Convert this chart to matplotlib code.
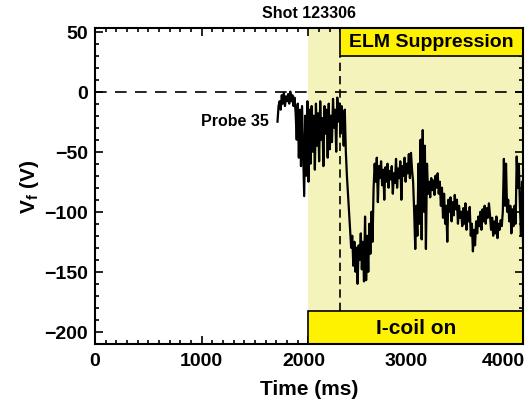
import numpy as np
import matplotlib
matplotlib.use("Agg")
import matplotlib.pyplot as plt
import matplotlib.transforms as mtrans
from matplotlib import font_manager
from matplotlib.patches import Rectangle
from matplotlib.ticker import MultipleLocator

# pick a narrow bold sans if there is one
names = {f.name for f in font_manager.fontManager.ttflist}
fam = "Liberation Sans Narrow" if "Liberation Sans Narrow" in names else "Liberation Sans"
plt.rcParams["font.family"] = [fam, "DejaVu Sans"]
plt.rcParams["font.weight"] = "bold"
plt.rcParams["mathtext.fontset"] = "custom"
plt.rcParams["mathtext.rm"] = fam + ":bold"
plt.rcParams["mathtext.it"] = fam + ":bold"

# probe 35 floating potential, sampled every 10 ms from 1710 ms
t_start, t_step = 1710, 10
vf = [-25, -12, -8, -15, -3, -10, -1, -12, -4, -8,
      -2, -10, 0, -8, -3, -12, -5, -18,
      -40, -10, -55, -15, -62, -12, -48, -87, -20, -70, -8, -75, -15,
      -60, -12, -50, -20, -65, -10, -45, -18, -58, -8, -40, -22, -62, -12, -35,
      -15, -55, -10, -48, -20, -42, -6, -30, -15, -50, -5, -25, -10, -35, -12,
      -20, -45, -15, -50, -70, -85, -100, -115,
      -130, -120, -145, -125, -150, -130, -160, -128, -140, -118, -148, -125,
      -158, -104, -157, -120, -150, -110, -135, -100, -125, -80,
      -60, -75, -55, -92, -62, -72, -58, -78, -65, -90, -63, -75, -60, -80,
      -66, -73, -62, -85, -68, -76, -56, -80, -64, -72, -58, -90, -62, -70,
      -55, -75, -60, -68, -52, -72, -51, -65,
      -75, -100, -131, -95, -120, -60, -110, -40, -123, -32, -100, -45, -131, -60,
      -85, -75, -88, -72, -82, -74, -86, -70, -80, -68, -85, -75, -95, -80,
      -105, -85, -110, -95, -125, -90,
      -100, -88, -108, -92, -103, -86, -98, -90, -110, -95, -105, -100, -112,
      -97, -110, -93, -115, -100, -108, -96,
      -120, -110, -133, -115, -128, -108,
      -118, -104, -112, -100, -115, -98, -108, -95, -110, -97, -105, -93, -103,
      -115, -105, -120, -108, -118, -104, -122, -110, -115, -107, -112,
      -100, -56, -95, -60,
      -100, -90, -108, -95, -118, -98, -112, -95, -110,
      -54, -80, -60,
      -95, -120, -75, -128, -65, -95]
time = t_start + t_step * np.arange(len(vf))

# I-coil and ELM-suppression windows (ms)
icoil_on = 2000
elm_start = 2300
x_max = 4010
y_min, y_max = -210, 53
x_ticks = [0, 1000, 2000, 3000, 4000]

fig = plt.figure(figsize=(5.3, 4.14), dpi=100)
ax = fig.add_axes([0.179, 0.167, 0.808, 0.763])

ax.axvspan(icoil_on, x_max, color="#f3f3bb", zorder=0, lw=0)
ax.axhline(0, color="black", ls=(0, (7, 5)), lw=1.2, zorder=2)
ax.plot([elm_start, elm_start], [-183, 30], color="black", ls=(0, (5, 3)), lw=1.2, zorder=2)

ax.plot(time, vf, color="black", lw=1.6, zorder=3)

# label boxes
ax.add_patch(Rectangle((elm_start, 30), x_max - elm_start, y_max - 30,
                       facecolor="#fff200", edgecolor="black", lw=1.2, zorder=4))
ax.text((elm_start + x_max) / 2, 41.5, "ELM Suppression", ha="center", va="center",
        fontsize=14, fontweight="bold", zorder=5)
ax.add_patch(Rectangle((icoil_on, y_min), x_max - icoil_on, -183 - y_min,
                       facecolor="#fff200", edgecolor="black", lw=1.2, zorder=4))
ax.text((icoil_on + x_max) / 2, -196.5, "I-coil on", ha="center", va="center",
        fontsize=15, fontweight="bold", zorder=5)

ax.text(1625, -24, "Probe 35", ha="right", va="center", fontsize=11.5, fontweight="bold")

ax.set_xlim(0, x_max)
ax.set_ylim(y_min, y_max)
ax.set_xticks(x_ticks)
ax.xaxis.set_minor_locator(MultipleLocator(100))
ax.yaxis.set_major_locator(MultipleLocator(50))
ax.yaxis.set_minor_locator(MultipleLocator(10))
ax.tick_params(which="both", direction="in", top=True, right=True, width=1.2, labelsize=14)
ax.tick_params(which="major", length=6)
ax.tick_params(which="minor", length=3)
ax.tick_params(axis="x", pad=6)
ax.tick_params(axis="y", pad=5)
for s in ax.spines.values():
    s.set_linewidth(1.5)
    s.set_zorder(6)

# the right-hand labels sit a bit left of their ticks in the original
shifts = [0, 0, -5, -9, -19]
for lab, dx in zip(ax.get_xticklabels(), shifts):
    lab.set_transform(lab.get_transform() + mtrans.ScaledTranslation(dx / 100, 0, fig.dpi_scale_trans))

ax.set_xlabel("Time (ms)", fontsize=15, fontweight="bold", labelpad=7)
ax.set_ylabel(r"V$_{\mathrm{f}}$ (V)", fontsize=15, fontweight="bold", labelpad=2)
ax.set_title("Shot 123306", fontsize=11.5, fontweight="bold", pad=8)

fig.savefig("out.png", dpi=100)
